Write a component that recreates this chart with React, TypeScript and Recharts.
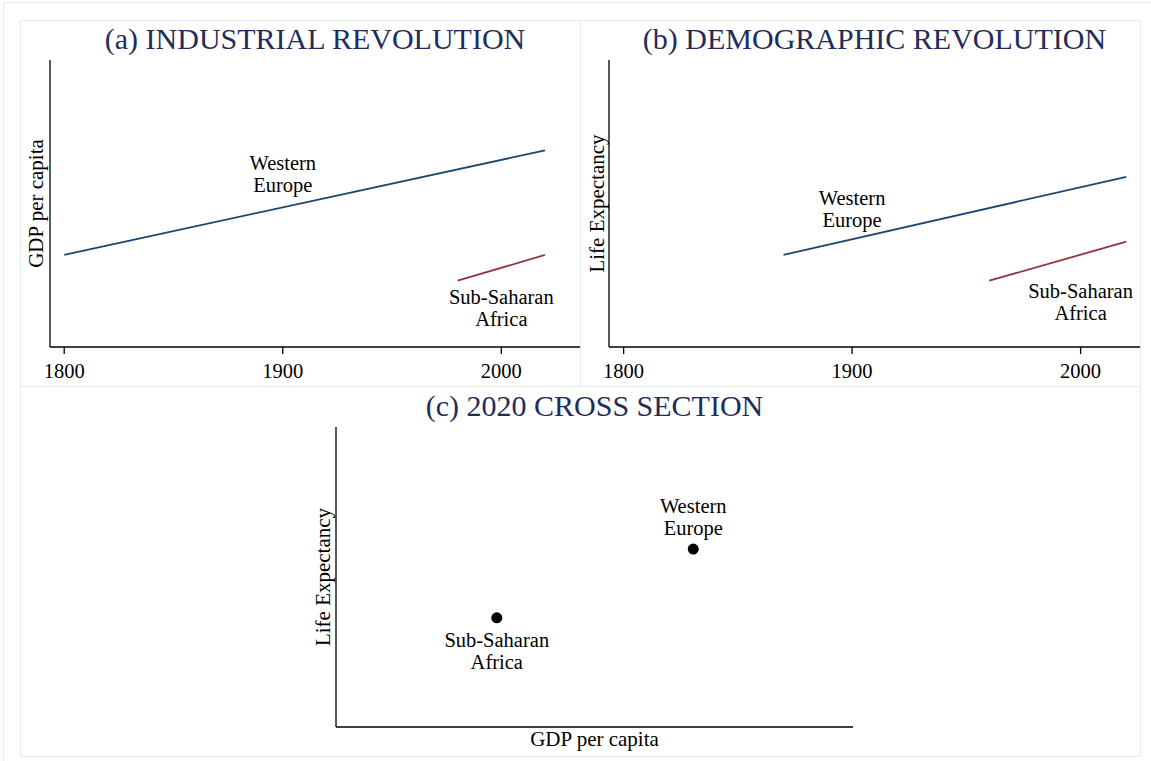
import React from "react"
import {
    LineChart,
    Line,
    ScatterChart,
    Scatter,
    XAxis,
    YAxis,
    ReferenceDot,
} from "recharts"

// panel (a): GDP per capita (index, no units shown)
const westYearsA = [1800, 2020]
const westGdp = [32.1, 68.5]
const ssaYearsA = [1980, 2020]
const ssaGdp = [23.1, 32.1]

// panel (b): life expectancy (index)
const westYearsB = [1870, 2020]
const westLife = [32.1, 59.3]
const ssaYearsB = [1960, 2020]
const ssaLife = [23.1, 36.7]

// panel (c): 2020 cross section
const regions = ["Western Europe", "Sub-Saharan Africa"]
const gdp2020 = [69.1, 31.1]
const life2020 = [59.3, 36.4]

const yearTicks = [1800, 1900, 2000]

// label anchors in data space (first line baseline)
const labelsA = [
    { year: 1900, value: 61.7, lines: ["Western", "Europe"] },
    { year: 2000, value: 15.0, lines: ["Sub-Saharan", "Africa"] },
]
const labelsB = [
    { year: 1900, value: 49.5, lines: ["Western", "Europe"] },
    { year: 2000, value: 17.1, lines: ["Sub-Saharan", "Africa"] },
]

const SERIF = '"Liberation Serif", "Times New Roman", serif'
const NAVY = "#1f2d5c"
const BLUE = "#1a476f"
const RED = "#90353b"
const FRAME = "#e3ebee"

const toRows = (xs: number[], ys: number[]) => xs.map((x, i) => ({ year: x, value: ys[i] }))

const twoLine = (lines: string[], dy: number) => (p: any) => (
    <g>
        <text x={p.cx} y={p.cy + dy} textAnchor="middle" fontFamily={SERIF} fontSize={20.5} fill="#000" style={{ fontFamily: SERIF }}>
            {lines[0]}
        </text>
        <text x={p.cx} y={p.cy + dy + 22} textAnchor="middle" fontFamily={SERIF} fontSize={20.5} fill="#000" style={{ fontFamily: SERIF }}>
            {lines[1]}
        </text>
    </g>
)

const dot = (p: any) => <circle cx={p.cx} cy={p.cy} r={5.5} fill="#000" />

const tickStyle = { fontFamily: SERIF, fontSize: 20.5, fill: "#000", style: { fontFamily: SERIF } }
const axisTitle = { fontFamily: SERIF, fontSize: 21, fill: "#000", textAnchor: "middle" as const }

function Title({ text, left, top, width }: { text: string; left: number; top: number; width: number }) {
    return (
        <div
            style={{
                position: "absolute",
                left,
                top,
                width,
                textAlign: "center",
                fontFamily: SERIF,
                fontSize: 30,
                lineHeight: "30px",
                color: NAVY,
                whiteSpace: "nowrap",
            }}
        >
            {text}
        </div>
    )
}

function TimePanel(props: {
    left: number
    axisWidth: number
    titleOffset: number
    domain: [number, number]
    yTitle: string
    west: { year: number; value: number }[]
    ssa: { year: number; value: number }[]
    labels: { year: number; value: number; lines: string[] }[]
}) {
    return (
        <div style={{ position: "absolute", left: props.left, top: 20, fontFamily: SERIF }}>
            <LineChart width={560} height={366} margin={{ top: 40, right: 0, bottom: 0, left: 0 }}>
                <XAxis
                    type="number"
                    dataKey="year"
                    domain={props.domain}
                    allowDataOverflow
                    ticks={yearTicks}
                    height={39}
                    tickSize={7}
                    tickMargin={9}
                    tick={tickStyle}
                    stroke="#000"
                    strokeWidth={1.3}
                />
                <YAxis
                    type="number"
                    dataKey="value"
                    domain={[0, 100]}
                    width={props.axisWidth}
                    tick={false}
                    tickLine={false}
                    stroke="#000"
                    strokeWidth={1.3}
                    label={{ value: props.yTitle, angle: -90, position: "insideRight", offset: props.titleOffset, style: axisTitle }}
                />
                <Line data={props.west} dataKey="value" stroke={BLUE} strokeWidth={1.8} dot={false} isAnimationActive={false} />
                <Line data={props.ssa} dataKey="value" stroke={RED} strokeWidth={1.8} dot={false} isAnimationActive={false} />
                {props.labels.map((l) => (
                    <ReferenceDot key={l.lines[0]} x={l.year} y={l.value} r={0} shape={twoLine(l.lines, 0)} />
                ))}
            </LineChart>
        </div>
    )
}

export default function App() {
    const cross = regions.map((r, i) => ({ region: r, gdp: gdp2020[i], life: life2020[i] }))

    return (
        <div style={{ position: "absolute", left: 0, top: 0, width: 1151, height: 761, background: "#fff", overflow: "hidden", fontFamily: SERIF }}>
            {/* outer and panel frames */}
            <div style={{ position: "absolute", left: 3, top: 2, right: 0, bottom: 0, borderTop: `1px solid ${FRAME}`, borderLeft: `1px solid ${FRAME}` }} />
            <div style={{ position: "absolute", left: 20, top: 20, width: 1119, height: 735, border: `1px solid ${FRAME}` }} />
            <div style={{ position: "absolute", left: 580, top: 20, width: 1, height: 366, background: FRAME }} />
            <div style={{ position: "absolute", left: 20, top: 386, width: 1120, height: 1, background: FRAME }} />

            <TimePanel
                left={20}
                axisWidth={30}
                titleOffset={14}
                domain={[1793.5, 2036]}
                yTitle="GDP per capita"
                west={toRows(westYearsA, westGdp)}
                ssa={toRows(ssaYearsA, ssaGdp)}
                labels={labelsA}
            />
            <TimePanel
                left={580}
                axisWidth={29}
                titleOffset={12}
                domain={[1793.6, 2026]}
                yTitle="Life Expectancy"
                west={toRows(westYearsB, westLife)}
                ssa={toRows(ssaYearsB, ssaLife)}
                labels={labelsB}
            />

            <div style={{ position: "absolute", left: 21, top: 386 }}>
                <ScatterChart width={1118} height={369} margin={{ top: 41, right: 286, bottom: 0, left: 0 }}>
                    <XAxis
                        type="number"
                        dataKey="gdp"
                        domain={[0, 100]}
                        height={28}
                        tick={false}
                        tickLine={false}
                        stroke="#000"
                        strokeWidth={1.3}
                        label={{ value: "GDP per capita", position: "insideBottom", offset: 9, style: axisTitle }}
                    />
                    <YAxis
                        type="number"
                        dataKey="life"
                        domain={[0, 100]}
                        width={315}
                        tick={false}
                        tickLine={false}
                        stroke="#000"
                        strokeWidth={1.3}
                        label={{ value: "Life Expectancy", angle: -90, position: "insideRight", offset: 13, style: axisTitle }}
                    />
                    <Scatter data={cross} fill="#000" shape={dot} isAnimationActive={false} />
                    <ReferenceDot x={cross[0].gdp} y={cross[0].life} r={0} shape={twoLine(["Western", "Europe"], -36)} />
                    <ReferenceDot x={cross[1].gdp} y={cross[1].life} r={0} shape={twoLine(["Sub-Saharan", "Africa"], 29)} />
                </ScatterChart>
            </div>

            <Title text="(a) INDUSTRIAL REVOLUTION" left={50} top={24} width={530} />
            <Title text="(b) DEMOGRAPHIC REVOLUTION" left={609} top={24} width={531} />
            <Title text="(c) 2020 CROSS SECTION" left={336} top={391} width={517} />
        </div>
    )
}
